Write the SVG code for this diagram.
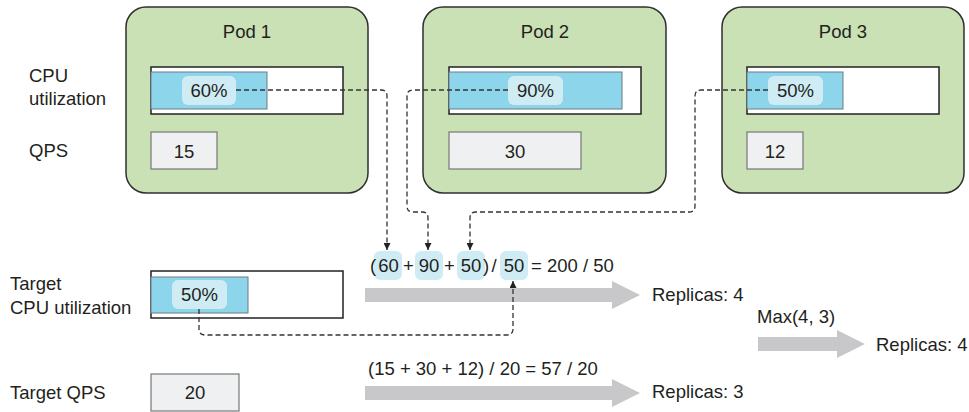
<svg xmlns="http://www.w3.org/2000/svg" width="969" height="412" viewBox="0 0 969 412">
<style>
text{font-family:"Liberation Sans",Arial,sans-serif;font-size:18.5px;fill:#231f20}
.m{text-anchor:middle}
.pod{fill:#c9e1b4;stroke:#2f2f2f;stroke-width:1.5}
.bar{fill:#fff;stroke:#222;stroke-width:1.5}
.fill{fill:#8dd5ea;stroke:#6d7d84;stroke-width:1}
.pill{fill:#cfecf5}
.box{fill:#eff0f1;stroke:#777;stroke-width:1.2}
.dash{fill:none;stroke:#333;stroke-width:1.3;stroke-dasharray:5 3}
.big{fill:#c8c8ca}
</style>
<defs>
<marker id="ah" viewBox="0 0 10 10" refX="10" refY="5" markerWidth="7" markerHeight="7" markerUnits="userSpaceOnUse" orient="auto">
<path d="M0,0 L10,5 L0,10 Z" fill="#222"/>
</marker>
</defs>

<g id="row-labels">
<text x="29" y="82">CPU</text>
<text x="29" y="105">utilization</text>
<text x="29" y="157">QPS</text>
</g>

<g id="pod1">
<rect class="pod" x="126" y="7" width="242" height="186" rx="20"/>
<text class="m" x="247" y="38">Pod 1</text>
<rect class="bar" x="151" y="67" width="192" height="47"/>
<rect class="fill" x="151" y="72" width="116" height="37"/>
<rect class="pill" x="182" y="76" width="54" height="29" rx="6"/>
<text class="m" x="209" y="97">60%</text>
<rect class="box" x="151" y="132" width="66" height="37"/>
<text class="m" x="184" y="158">15</text>
</g>

<g id="pod2">
<rect class="pod" x="423" y="7" width="243" height="186" rx="20"/>
<text class="m" x="545" y="38">Pod 2</text>
<rect class="bar" x="449" y="67" width="192" height="47"/>
<rect class="fill" x="449" y="72" width="173" height="37"/>
<rect class="pill" x="508" y="76" width="55" height="29" rx="6"/>
<text class="m" x="535.5" y="97">90%</text>
<rect class="box" x="449" y="132" width="132" height="37"/>
<text class="m" x="515" y="158">30</text>
</g>

<g id="pod3">
<rect class="pod" x="722" y="7" width="242" height="186" rx="20"/>
<text class="m" x="843" y="38">Pod 3</text>
<rect class="bar" x="747" y="67" width="192" height="47"/>
<rect class="fill" x="747" y="72" width="96" height="37"/>
<rect class="pill" x="768" y="76" width="55" height="29" rx="6"/>
<text class="m" x="795.5" y="97">50%</text>
<rect class="box" x="747" y="132" width="56" height="37"/>
<text class="m" x="775" y="158">12</text>
</g>

<g id="target-cpu">
<text x="10" y="290">Target</text>
<text x="10" y="314">CPU utilization</text>
<rect class="bar" x="151" y="271" width="192" height="47"/>
<rect class="fill" x="151" y="277" width="97" height="36"/>
<rect class="pill" x="172" y="280" width="55" height="29" rx="6"/>
<text class="m" x="199.5" y="301">50%</text>
</g>

<g id="target-qps">
<text x="10" y="399">Target QPS</text>
<rect class="box" x="151" y="374" width="88" height="37"/>
<text class="m" x="195" y="399">20</text>
</g>

<g id="formula-cpu">
<rect class="pill" x="374" y="251" width="28" height="29" rx="6"/>
<rect class="pill" x="415" y="251" width="28" height="29" rx="6"/>
<rect class="pill" x="457" y="251" width="28" height="29" rx="6"/>
<rect class="pill" x="500" y="251" width="28" height="29" rx="6"/>
<text x="370" y="272">(</text>
<text class="m" x="388.5" y="272">60</text>
<text class="m" x="408.5" y="272">+</text>
<text class="m" x="429" y="272">90</text>
<text class="m" x="449.5" y="272">+</text>
<text class="m" x="471" y="272">50</text>
<text x="483" y="272">)</text>
<text class="m" x="494" y="272">/</text>
<text class="m" x="514" y="272">50</text>
<text x="531" y="272">= 200 / 50</text>
</g>

<g id="formula-qps">
<text x="368" y="375">(15 + 30 + 12) / 20 = 57 / 20</text>
</g>

<g id="result-cpu">
<text x="652" y="301">Replicas: 4</text>
</g>
<g id="result-qps">
<text x="652" y="398">Replicas: 3</text>
</g>
<g id="result-max">
<text x="757" y="323">Max(4, 3)</text>
<text x="876" y="351">Replicas: 4</text>
</g>

<g id="connectors">
<path class="big" d="M365,288 H612 V281 L640,295 L612,309 V302 H365 Z"/>
<path class="big" d="M365,386 H612 V379 L640,393 L612,407 V400 H365 Z"/>
<path class="big" d="M758,337 H837 V330 L865,344 L837,358 V351 H758 Z"/>
<path class="dash" d="M236,90 H381 Q387,90 387,96 V250" marker-end="url(#ah)"/>
<path class="dash" d="M508,90 H413 Q407,90 407,96 V206 Q407,212 413,212 H422 Q428,212 428,218 V250" marker-end="url(#ah)"/>
<path class="dash" d="M768,90 H701 Q695,90 695,96 V206 Q695,212 689,212 H476 Q470,212 470,218 V250" marker-end="url(#ah)"/>
<path class="dash" d="M199,309 V329 Q199,335 205,335 H507 Q513,335 513,329 V281" marker-end="url(#ah)"/>
</g>
</svg>
